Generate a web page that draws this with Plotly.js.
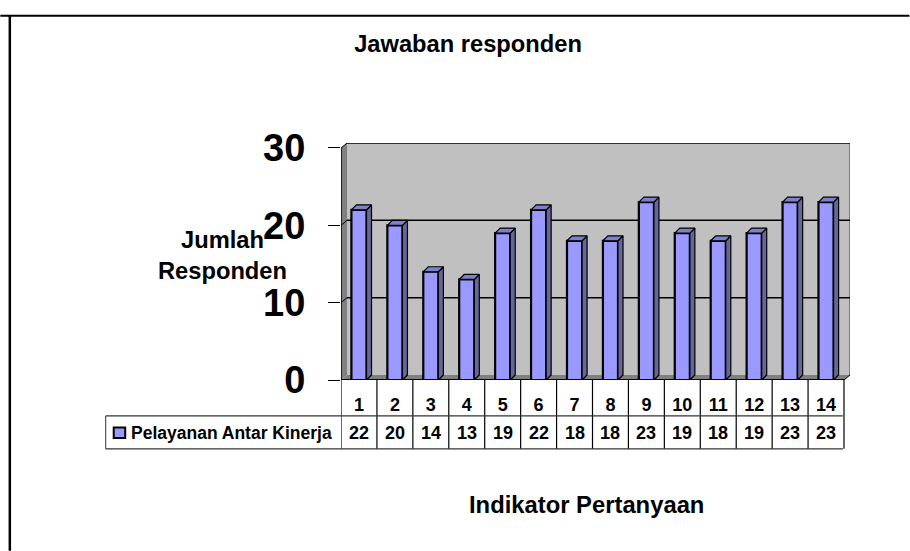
<!DOCTYPE html>
<html>
<head>
<meta charset="utf-8">
<script src="https://cdn.plot.ly/plotly-3.0.1.min.js"></script>
<style>html,body{margin:0;padding:0;background:#fff}#chart{width:910px;height:551px}</style>
</head>
<body>
<div id="chart"></div>
<script>
const categories = [1,2,3,4,5,6,7,8,9,10,11,12,13,14];
const values = [22,20,14,13,19,22,18,18,23,19,18,19,23,23];
const yTicks = [0,10,20,30];
const seriesName = 'Pelayanan Antar Kinerja';
const chartTitle = 'Jawaban responden';
const xTitle = 'Indikator Pertanyaan';
const yTitle = 'Jumlah<br>Responden';

const W = 910, H = 551, L = 341, R = 850.5, T = 142.5, B = 380;
const catPx = 35.88, unitPx = 7.75;
const depthX = 6 / catPx, depthY = 5 / unitPx, barW = 0.42, barDX = 5 / catPx;
const xMin = 0.5, xMax = 14.5 + depthX, yMax = (B - T) / unitPx;
const font = 'Liberation Sans, Arial, sans-serif';

const px = x => (x - L) / (R - L);
const py = y => (B - y) / (B - T);

function poly(list){ const xs=[],ys=[]; list.forEach(p=>{p.forEach(q=>{xs.push(q[0]);ys.push(q[1]);}); xs.push(p[0][0]); ys.push(p[0][1]); xs.push(null); ys.push(null);}); return {xs,ys}; }
const sides = poly(categories.map((c,i)=>{const r=c+barW/2,v=values[i];return [[r,0],[r+barDX,depthY],[r+barDX,v+depthY],[r,v]];}));
const tops = poly(categories.map((c,i)=>{const l=c-barW/2,r=c+barW/2,v=values[i];return [[l,v],[l+barDX,v+depthY],[r+barDX,v+depthY],[r,v]];}));
const outline = {color:'#000',width:1.2};

const data = [
  {type:'scatter',mode:'lines',x:sides.xs,y:sides.ys,fill:'toself',fillcolor:'#666699',line:outline,hoverinfo:'skip',showlegend:false},
  {type:'scatter',mode:'lines',x:tops.xs,y:tops.ys,fill:'toself',fillcolor:'#7f7fcc',line:outline,hoverinfo:'skip',showlegend:false},
  {type:'bar',name:seriesName,x:categories,y:values,width:barW,marker:{color:'#9999ff',line:{color:'#000',width:2.2}},showlegend:false}
];

const shapes = [];
const add = s => shapes.push(Object.assign({layer:'below'},s));
// outer frame
const line = (x0,y0,x1,y1,w,c) => shapes.push({type:'line',xref:'paper',yref:'paper',x0:px(x0),y0:py(y0),x1:px(x1),y1:py(y1),line:{color:c||'#000',width:w||1}});
line(0,15,910,15,2); line(9.5,15,9.5,551,2.5);
// back wall, side wall, floor
add({type:'rect',xref:'x',yref:'y',x0:xMin+depthX,x1:xMax,y0:depthY,y1:yMax,fillcolor:'#c0c0c0',line:{width:0}});
add({type:'path',xref:'x',yref:'y',path:`M${xMin},0 L${xMin+depthX},${depthY} L${xMin+depthX},${yMax} L${xMin},30 Z`,fillcolor:'#808080',line:{width:0}});
add({type:'path',xref:'x',yref:'y',path:`M${xMin},0 L${xMin+depthX},${depthY} L${xMax},${depthY} L14.5,0 Z`,fillcolor:'#808080',line:{width:0}});
add({type:'line',xref:'x',yref:'y',x0:xMax,x1:xMax,y0:depthY,y1:yMax,line:{color:'#808080',width:2}});
add({type:'line',xref:'x',yref:'y',x0:14.5,x1:xMax,y0:0,y1:depthY,line:{color:'#000',width:1}});
// gridlines
yTicks.slice(1).forEach(v=>{
  add({type:'line',xref:'x',yref:'y',x0:xMin,y0:v,x1:xMin+depthX,y1:v+depthY,line:{color:'#000',width:1}});
  add({type:'line',xref:'x',yref:'y',x0:xMin+depthX,y0:v+depthY,x1:xMax,y1:v+depthY,line:{color:'#000',width:1.5}});
});
add({type:'line',xref:'x',yref:'y',x0:xMin,y0:0,x1:xMin,y1:30,line:{color:'#000',width:1.5}});
shapes.push({type:'line',xref:'x',yref:'y',x0:xMin,y0:0,x1:14.5,y1:0,line:{color:'#000',width:2}});
// data table
const rowMid = 416, rowEnd = 449;
[xMin].concat(categories.map(c=>c+0.5)).forEach(x=>{
  shapes.push({type:'line',xref:'x',yref:'paper',x0:x,x1:x,y0:py(B),y1:py(rowEnd),line:{color:'#000',width:1.2}});
});
line(105.5,rowMid,L+14*catPx,rowMid,1.2,'#333');
line(105.5,rowEnd,L+14*catPx,rowEnd,1.2,'#333');
line(105.5,rowMid,105.5,rowEnd,1,'#333');
shapes.push({type:'rect',xref:'paper',yref:'paper',x0:px(113.5),x1:px(125),y0:py(427.5),y1:py(438),fillcolor:'#9999ff',line:{color:'#000',width:2}});

const annotations = values.map((v,i)=>({
  text:`<b>${v}</b>`,xref:'x',yref:'paper',x:categories[i],y:py(433),showarrow:false,yanchor:'middle',
  font:{family:font,size:18,color:'#000'}
}));
const label = (text,x,y,size,extra) => annotations.push(Object.assign({text:`<b>${text}</b>`,xref:'paper',yref:'paper',x:px(x),y:py(y),showarrow:false,xanchor:'center',yanchor:'middle',font:{family:font,size:size,color:'#000'}},extra||{}));
label(seriesName,231.5,433,17.5);
label(xTitle,587,505,23.8);
label(yTitle,222.5,255.5,23.7,{align:'center'});

const layout = {
  width:W,height:H,autosize:false,
  margin:{l:L,r:W-R,t:T,b:H-B,pad:0},
  paper_bgcolor:'#fff',plot_bgcolor:'rgba(0,0,0,0)',
  title:{text:`<b>${chartTitle}</b>`,xref:'container',yref:'container',x:468/W,xanchor:'center',y:1-44/H,yanchor:'middle',font:{family:font,size:23.7,color:'#000'}},
  xaxis:{range:[xMin,xMax],tickmode:'array',tickvals:categories,ticktext:categories.map(c=>`<b>${c}</b>`),ticks:'outside',ticklen:6,tickcolor:'rgba(0,0,0,0)',
    ticklabelstandoff:2,showgrid:false,zeroline:false,showline:false,
    tickfont:{family:font,size:18,color:'#000'},fixedrange:true},
  yaxis:{range:[0,yMax],tickmode:'array',tickvals:yTicks,ticktext:yTicks.map(v=>`<b>${v}</b>`),ticks:'outside',ticklen:12,tickcolor:'#000',tickwidth:1,
    ticklabelstandoff:15,showgrid:false,zeroline:false,showline:false,
    tickfont:{family:font,size:38,color:'#000'},fixedrange:true},
  bargap:0.5,shapes,annotations
};
Plotly.newPlot('chart',data,layout,{displayModeBar:false,staticPlot:true});
</script>
</body>
</html>
